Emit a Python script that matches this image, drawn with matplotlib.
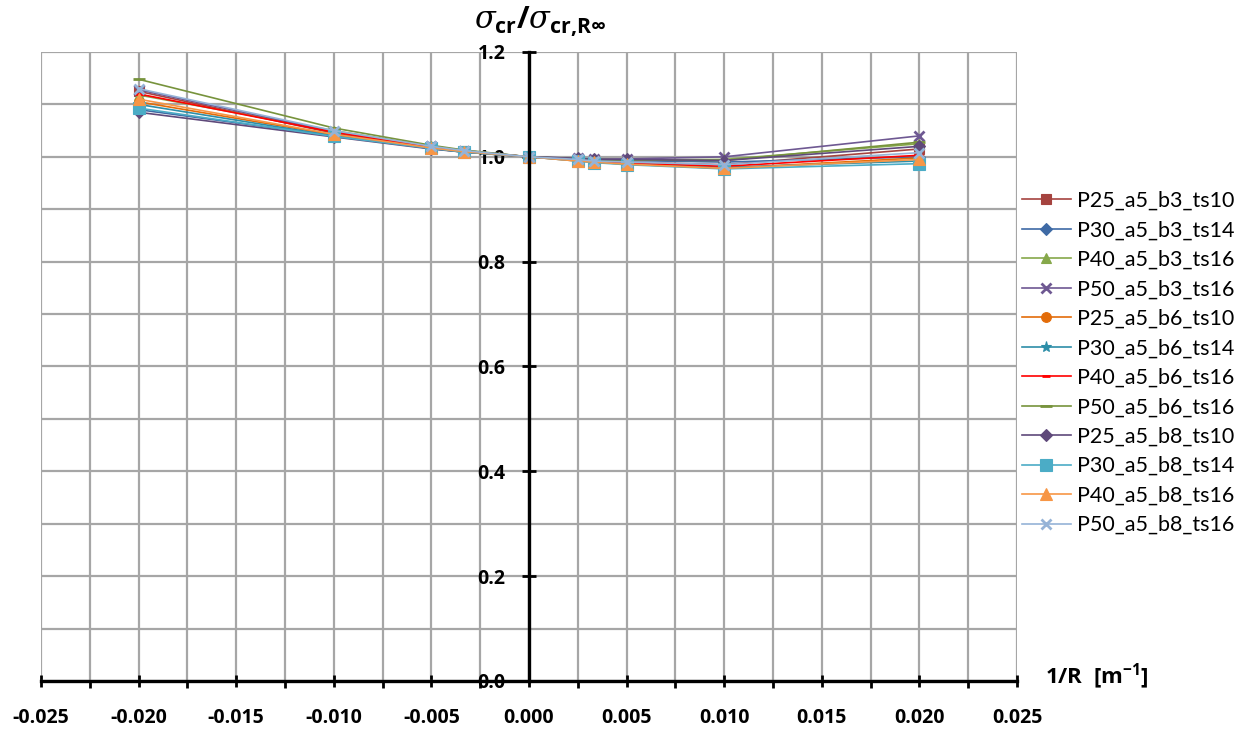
import matplotlib

matplotlib.use("Agg")
import matplotlib.pyplot as plt
from matplotlib.ticker import MultipleLocator, FuncFormatter

plt.rcParams["font.family"] = ["Open Sans", "DejaVu Sans"]
plt.rcParams["font.weight"] = "bold"
plt.rcParams["mathtext.fontset"] = "custom"
plt.rcParams["mathtext.rm"] = "Open Sans:bold"
plt.rcParams["mathtext.bf"] = "Open Sans:bold"
plt.rcParams["mathtext.it"] = "DejaVu Serif:italic:normal"

# curvature 1/R [1/m]
inv_r = [-0.02, -0.01, -0.005, -1 / 300, 0.0, 0.0025, 1 / 300, 0.005, 0.01, 0.02]

labels = [
    "P25_a5_b3_ts10",
    "P30_a5_b3_ts14",
    "P40_a5_b3_ts16",
    "P50_a5_b3_ts16",
    "P25_a5_b6_ts10",
    "P30_a5_b6_ts14",
    "P40_a5_b6_ts16",
    "P50_a5_b6_ts16",
    "P25_a5_b8_ts10",
    "P30_a5_b8_ts14",
    "P40_a5_b8_ts16",
    "P50_a5_b8_ts16",
]

p25_b3 = [1.125, 1.045, 1.018, 1.011, 1.0, 0.995, 0.992, 0.990, 0.985, 1.015]
p30_b3 = [1.090, 1.040, 1.017, 1.010, 1.0, 0.996, 0.993, 0.993, 0.990, 1.000]
p40_b3 = [1.118, 1.050, 1.020, 1.012, 1.0, 0.996, 0.995, 0.994, 0.995, 1.025]
p50_b3 = [1.128, 1.048, 1.020, 1.012, 1.0, 0.997, 0.996, 0.996, 1.000, 1.040]
p25_b6 = [1.105, 1.042, 1.016, 1.009, 1.0, 0.992, 0.990, 0.986, 0.978, 0.998]
p30_b6 = [1.100, 1.040, 1.016, 1.009, 1.0, 0.993, 0.990, 0.987, 0.980, 0.992]
p40_b6 = [1.120, 1.047, 1.019, 1.011, 1.0, 0.994, 0.991, 0.988, 0.982, 1.003]
p50_b6 = [1.148, 1.055, 1.022, 1.013, 1.0, 0.996, 0.995, 0.994, 0.993, 1.028]
p25_b8 = [1.085, 1.038, 1.015, 1.009, 1.0, 0.997, 0.995, 0.995, 0.993, 1.020]
p30_b8 = [1.093, 1.039, 1.016, 1.009, 1.0, 0.992, 0.989, 0.985, 0.977, 0.987]
p40_b8 = [1.110, 1.043, 1.017, 1.010, 1.0, 0.992, 0.990, 0.986, 0.978, 0.995]
p50_b8 = [1.130, 1.050, 1.020, 1.012, 1.0, 0.995, 0.992, 0.990, 0.985, 1.008]

series = [
    p25_b3, p30_b3, p40_b3, p50_b3,
    p25_b6, p30_b6, p40_b6, p50_b6,
    p25_b8, p30_b8, p40_b8, p50_b8,
]

colors = [
    "#A5433F", "#3E6AA5", "#86A84A", "#6E5892",
    "#E36C09", "#2D8EA8", "#FF0000", "#77933C",
    "#5F497A", "#4BACC6", "#F79646", "#95B3D7",
]
markers = ["s", "D", "^", "x", "o", "*", "_", "_", "D", "s", "^", "x"]
msizes = [7, 6, 7, 7, 7, 8, 6, 9, 6, 8, 8, 7]

fig = plt.figure(figsize=(12.54, 7.34), dpi=100)
ax = fig.add_axes([41 / 1254, 1 - 681 / 734, (1017 - 41) / 1254, (681 - 52) / 734])

for ys, lab, c, m, ms in zip(series, labels, colors, markers, msizes):
    ax.plot(
        inv_r,
        ys,
        color=c,
        marker=m,
        markersize=ms,
        markeredgewidth=2 if m in ("x", "_") else 0.8,
        linewidth=1.2,
        label=lab,
        zorder=3,
    )

ax.set_xlim(-0.025, 0.025)
ax.set_ylim(0.0, 1.2)

ax.xaxis.set_major_locator(MultipleLocator(0.005))
ax.xaxis.set_minor_locator(MultipleLocator(0.0025))
ax.xaxis.set_major_formatter(FuncFormatter(lambda v, p: f"{v + 0.0:.3f}".replace("-0.000", "0.000")))
ax.yaxis.set_major_locator(MultipleLocator(0.2))
ax.yaxis.set_minor_locator(MultipleLocator(0.1))
ax.yaxis.set_major_formatter(FuncFormatter(lambda v, p: f"{abs(v) if abs(v) < 1e-9 else v:.1f}"))

ax.grid(True, which="both", color="#A6A6A6", linewidth=1.6, zorder=0)
ax.set_axisbelow(True)

for side in ("top", "right"):
    ax.spines[side].set_visible(False)
ax.spines["left"].set_position(("data", 0.0))
ax.spines["left"].set_linewidth(2.4)
ax.spines["bottom"].set_linewidth(2.4)
ax.spines["left"].set_zorder(4)
ax.spines["bottom"].set_zorder(4)

ax.tick_params(axis="x", which="major", direction="inout", length=9, width=2,
               pad=15, labelsize=14)
ax.tick_params(axis="x", which="minor", direction="out", length=5, width=2)
ax.tick_params(axis="y", which="major", direction="inout", length=10, width=2,
               pad=12, labelsize=14)
ax.tick_params(axis="y", which="minor", length=0)

fig.text(1045 / 1254, 1 - 677 / 734, r"1/R  [m$^{-1}$]",
         fontsize=16, fontweight="bold", va="center", ha="left")
fig.text(540 / 1254, 1 - 22 / 734,
         r"$\sigma_{\mathbf{cr}}\mathbf{/}\sigma_{\mathbf{cr{,}R\infty}}$",
         fontsize=22, va="center", ha="center")

fig.legend(
    loc="center left",
    bbox_to_anchor=(1013 / 1254, 1 - 363 / 734),
    frameon=False,
    prop={"family": ["Lato", "DejaVu Sans"], "weight": "normal", "size": 15.5},
    handlelength=2.3,
    handletextpad=0.28,
    labelspacing=0.44,
    borderaxespad=0.0,
)

fig.savefig("out.png", dpi=100)
